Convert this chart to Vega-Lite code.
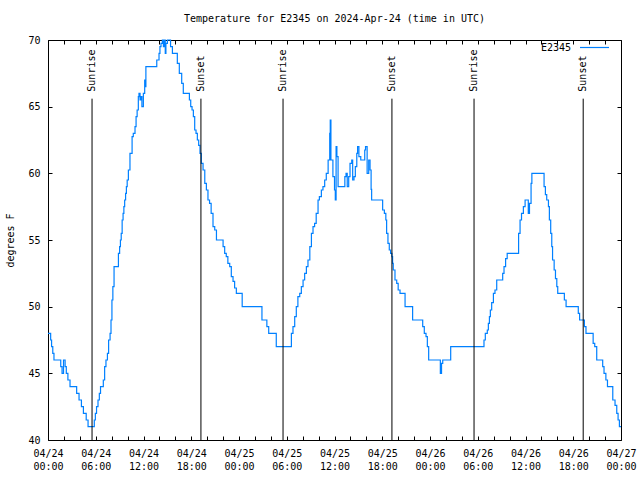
{
  "$schema": "https://vega.github.io/schema/vega-lite/v6.json",
  "autosize": "none",
  "width": 573,
  "height": 400,
  "padding": {"left": 48, "top": 40, "right": 19, "bottom": 40},
  "background": "white",
  "title": {"text": "Temperature for E2345 on 2024-Apr-24 (time in UTC)", "font": "DejaVu Sans Mono", "fontSize": 10, "fontWeight": "normal", "color": "black", "anchor": "middle", "offset": 8},
  "config": {
    "view": {"stroke": "black", "strokeWidth": 1},
    "axis": {"domain": false, "tickColor": "black", "tickWidth": 1, "grid": false, "labelFont": "DejaVu Sans Mono", "labelFontSize": 10, "labelColor": "black", "titleFont": "DejaVu Sans Mono", "titleFontSize": 10, "titleFontWeight": "normal", "titleColor": "black"}
  },
  "datasets": {
    "temps": [
      {"time":"2024-04-24T00:00:00Z","temp":48},{"time":"2024-04-24T00:20:00Z","temp":47.5},{"time":"2024-04-24T00:27:00Z","temp":47},{"time":"2024-04-24T00:36:00Z","temp":46.5},{"time":"2024-04-24T00:45:00Z","temp":46},{"time":"2024-04-24T01:36:00Z","temp":45.5},{"time":"2024-04-24T01:46:00Z","temp":45},{"time":"2024-04-24T01:57:00Z","temp":46},{"time":"2024-04-24T02:09:00Z","temp":45.5},{"time":"2024-04-24T02:18:00Z","temp":45},{"time":"2024-04-24T02:30:00Z","temp":44.5},{"time":"2024-04-24T02:46:00Z","temp":44},{"time":"2024-04-24T03:36:00Z","temp":43.5},{"time":"2024-04-24T03:54:00Z","temp":43},{"time":"2024-04-24T04:12:00Z","temp":42.5},{"time":"2024-04-24T04:27:00Z","temp":42},{"time":"2024-04-24T04:48:00Z","temp":41.5},{"time":"2024-04-24T05:02:00Z","temp":41},{"time":"2024-04-24T05:49:00Z","temp":41.5},{"time":"2024-04-24T05:57:00Z","temp":42},{"time":"2024-04-24T06:06:00Z","temp":42.5},{"time":"2024-04-24T06:17:00Z","temp":43},{"time":"2024-04-24T06:27:00Z","temp":43.5},{"time":"2024-04-24T06:36:00Z","temp":44},{"time":"2024-04-24T06:57:00Z","temp":44.5},{"time":"2024-04-24T07:07:00Z","temp":45.5},{"time":"2024-04-24T07:17:00Z","temp":46},{"time":"2024-04-24T07:28:00Z","temp":46.5},{"time":"2024-04-24T07:37:00Z","temp":47.5},{"time":"2024-04-24T07:48:00Z","temp":48},{"time":"2024-04-24T07:55:00Z","temp":49},{"time":"2024-04-24T08:02:00Z","temp":50.5},{"time":"2024-04-24T08:09:00Z","temp":51.5},{"time":"2024-04-24T08:18:00Z","temp":53},{"time":"2024-04-24T08:51:00Z","temp":54},{"time":"2024-04-24T09:00:00Z","temp":54.5},{"time":"2024-04-24T09:06:00Z","temp":55},{"time":"2024-04-24T09:12:00Z","temp":55.5},{"time":"2024-04-24T09:19:00Z","temp":56.5},{"time":"2024-04-24T09:26:00Z","temp":57},{"time":"2024-04-24T09:32:00Z","temp":57.5},{"time":"2024-04-24T09:38:00Z","temp":58},{"time":"2024-04-24T09:45:00Z","temp":58.5},{"time":"2024-04-24T09:51:00Z","temp":59},{"time":"2024-04-24T09:57:00Z","temp":59.5},{"time":"2024-04-24T10:06:00Z","temp":60.25},{"time":"2024-04-24T10:18:00Z","temp":61.5},{"time":"2024-04-24T10:34:00Z","temp":62.75},{"time":"2024-04-24T10:43:00Z","temp":63},{"time":"2024-04-24T10:56:00Z","temp":63.5},{"time":"2024-04-24T11:04:00Z","temp":64.25},{"time":"2024-04-24T11:12:00Z","temp":64.75},{"time":"2024-04-24T11:21:00Z","temp":65.75},{"time":"2024-04-24T11:26:00Z","temp":66},{"time":"2024-04-24T11:34:00Z","temp":65.5},{"time":"2024-04-24T11:41:00Z","temp":65.75},{"time":"2024-04-24T11:48:00Z","temp":65},{"time":"2024-04-24T11:59:00Z","temp":66},{"time":"2024-04-24T12:09:00Z","temp":67},{"time":"2024-04-24T12:14:00Z","temp":66.5},{"time":"2024-04-24T12:18:00Z","temp":68},{"time":"2024-04-24T13:40:00Z","temp":68.5},{"time":"2024-04-24T13:57:00Z","temp":69},{"time":"2024-04-24T14:04:00Z","temp":69.5},{"time":"2024-04-24T14:12:00Z","temp":69.75},{"time":"2024-04-24T14:22:00Z","temp":70},{"time":"2024-04-24T14:30:00Z","temp":69.5},{"time":"2024-04-24T14:35:00Z","temp":70},{"time":"2024-04-24T14:44:00Z","temp":69},{"time":"2024-04-24T14:49:00Z","temp":69.75},{"time":"2024-04-24T15:00:00Z","temp":70},{"time":"2024-04-24T15:24:00Z","temp":69.5},{"time":"2024-04-24T15:38:00Z","temp":69},{"time":"2024-04-24T16:15:00Z","temp":68.25},{"time":"2024-04-24T16:30:00Z","temp":67.5},{"time":"2024-04-24T16:48:00Z","temp":66.75},{"time":"2024-04-24T17:00:00Z","temp":66},{"time":"2024-04-24T17:46:00Z","temp":65.5},{"time":"2024-04-24T17:56:00Z","temp":65},{"time":"2024-04-24T18:06:00Z","temp":64.75},{"time":"2024-04-24T18:16:00Z","temp":64.25},{"time":"2024-04-24T18:26:00Z","temp":63.25},{"time":"2024-04-24T18:36:00Z","temp":63},{"time":"2024-04-24T18:46:00Z","temp":62.5},{"time":"2024-04-24T18:56:00Z","temp":62.1},{"time":"2024-04-24T19:06:00Z","temp":61.5},{"time":"2024-04-24T19:16:00Z","temp":60.75},{"time":"2024-04-24T19:29:00Z","temp":60.25},{"time":"2024-04-24T19:42:00Z","temp":59.25},{"time":"2024-04-24T19:54:00Z","temp":58.75},{"time":"2024-04-24T20:06:00Z","temp":58},{"time":"2024-04-24T20:18:00Z","temp":57.75},{"time":"2024-04-24T20:30:00Z","temp":57},{"time":"2024-04-24T20:44:00Z","temp":56},{"time":"2024-04-24T20:57:00Z","temp":55.75},{"time":"2024-04-24T21:10:00Z","temp":55},{"time":"2024-04-24T22:00:00Z","temp":54.5},{"time":"2024-04-24T22:12:00Z","temp":54},{"time":"2024-04-24T22:24:00Z","temp":53.75},{"time":"2024-04-24T22:36:00Z","temp":53.25},{"time":"2024-04-24T22:50:00Z","temp":53},{"time":"2024-04-24T23:02:00Z","temp":52.25},{"time":"2024-04-24T23:15:00Z","temp":51.9},{"time":"2024-04-24T23:27:00Z","temp":51.4},{"time":"2024-04-24T23:40:00Z","temp":51},
      {"time":"2024-04-25T00:24:00Z","temp":50},{"time":"2024-04-25T02:53:00Z","temp":49},{"time":"2024-04-25T03:30:00Z","temp":48.5},{"time":"2024-04-25T03:44:00Z","temp":48},{"time":"2024-04-25T04:41:00Z","temp":47},{"time":"2024-04-25T06:35:00Z","temp":48},{"time":"2024-04-25T06:47:00Z","temp":48.5},{"time":"2024-04-25T07:00:00Z","temp":49.25},{"time":"2024-04-25T07:12:00Z","temp":50},{"time":"2024-04-25T07:24:00Z","temp":50.75},{"time":"2024-04-25T07:38:00Z","temp":51},{"time":"2024-04-25T07:50:00Z","temp":51.5},{"time":"2024-04-25T08:03:00Z","temp":52},{"time":"2024-04-25T08:15:00Z","temp":52.5},{"time":"2024-04-25T08:28:00Z","temp":53},{"time":"2024-04-25T08:40:00Z","temp":53.5},{"time":"2024-04-25T08:54:00Z","temp":54.5},{"time":"2024-04-25T09:06:00Z","temp":55.5},{"time":"2024-04-25T09:18:00Z","temp":56},{"time":"2024-04-25T09:30:00Z","temp":56.25},{"time":"2024-04-25T09:42:00Z","temp":57},{"time":"2024-04-25T09:56:00Z","temp":58},{"time":"2024-04-25T10:06:00Z","temp":58.25},{"time":"2024-04-25T10:21:00Z","temp":58.75},{"time":"2024-04-25T10:33:00Z","temp":59},{"time":"2024-04-25T10:46:00Z","temp":59.5},{"time":"2024-04-25T10:58:00Z","temp":60},{"time":"2024-04-25T11:12:00Z","temp":61},{"time":"2024-04-25T11:24:00Z","temp":63},{"time":"2024-04-25T11:28:00Z","temp":64},{"time":"2024-04-25T11:33:00Z","temp":61},{"time":"2024-04-25T11:48:00Z","temp":59.75},{"time":"2024-04-25T12:00:00Z","temp":58.75},{"time":"2024-04-25T12:06:00Z","temp":58},{"time":"2024-04-25T12:12:00Z","temp":62},{"time":"2024-04-25T12:18:00Z","temp":61.25},{"time":"2024-04-25T12:27:00Z","temp":59},{"time":"2024-04-25T13:18:00Z","temp":59.75},{"time":"2024-04-25T13:27:00Z","temp":60},{"time":"2024-04-25T13:36:00Z","temp":59},{"time":"2024-04-25T13:47:00Z","temp":59.75},{"time":"2024-04-25T13:57:00Z","temp":60.75},{"time":"2024-04-25T14:10:00Z","temp":61},{"time":"2024-04-25T14:17:00Z","temp":59.5},{"time":"2024-04-25T14:27:00Z","temp":59.75},{"time":"2024-04-25T14:37:00Z","temp":60.5},{"time":"2024-04-25T14:48:00Z","temp":61.5},{"time":"2024-04-25T14:54:00Z","temp":62},{"time":"2024-04-25T15:04:00Z","temp":61.25},{"time":"2024-04-25T15:18:00Z","temp":61},{"time":"2024-04-25T15:48:00Z","temp":61.75},{"time":"2024-04-25T15:54:00Z","temp":62},{"time":"2024-04-25T16:06:00Z","temp":60},{"time":"2024-04-25T16:18:00Z","temp":61},{"time":"2024-04-25T16:28:00Z","temp":60.25},{"time":"2024-04-25T16:36:00Z","temp":58.8},{"time":"2024-04-25T16:40:00Z","temp":58},{"time":"2024-04-25T18:03:00Z","temp":57.25},{"time":"2024-04-25T18:16:00Z","temp":57},{"time":"2024-04-25T18:27:00Z","temp":56.5},{"time":"2024-04-25T18:33:00Z","temp":55.5},{"time":"2024-04-25T18:43:00Z","temp":54.75},{"time":"2024-04-25T18:53:00Z","temp":54.25},{"time":"2024-04-25T19:03:00Z","temp":54},{"time":"2024-04-25T19:13:00Z","temp":53.75},{"time":"2024-04-25T19:18:00Z","temp":53.25},{"time":"2024-04-25T19:23:00Z","temp":52.75},{"time":"2024-04-25T19:36:00Z","temp":52},{"time":"2024-04-25T19:49:00Z","temp":51.75},{"time":"2024-04-25T20:00:00Z","temp":51.25},{"time":"2024-04-25T20:14:00Z","temp":51},{"time":"2024-04-25T20:52:00Z","temp":50},{"time":"2024-04-25T21:49:00Z","temp":49},{"time":"2024-04-25T23:05:00Z","temp":48.5},{"time":"2024-04-25T23:17:00Z","temp":48},{"time":"2024-04-25T23:30:00Z","temp":47.75},{"time":"2024-04-25T23:40:00Z","temp":47},{"time":"2024-04-25T23:50:00Z","temp":46},
      {"time":"2024-04-26T01:18:00Z","temp":45},{"time":"2024-04-26T01:27:00Z","temp":45.75},{"time":"2024-04-26T01:36:00Z","temp":46},{"time":"2024-04-26T02:36:00Z","temp":47},{"time":"2024-04-26T06:47:00Z","temp":47.5},{"time":"2024-04-26T06:57:00Z","temp":48},{"time":"2024-04-26T07:12:00Z","temp":48.25},{"time":"2024-04-26T07:20:00Z","temp":48.75},{"time":"2024-04-26T07:28:00Z","temp":49.25},{"time":"2024-04-26T07:35:00Z","temp":49.75},{"time":"2024-04-26T07:45:00Z","temp":50.3},{"time":"2024-04-26T07:58:00Z","temp":51},{"time":"2024-04-26T08:10:00Z","temp":51.25},{"time":"2024-04-26T08:23:00Z","temp":52},{"time":"2024-04-26T09:08:00Z","temp":52.5},{"time":"2024-04-26T09:18:00Z","temp":53},{"time":"2024-04-26T09:30:00Z","temp":53.6},{"time":"2024-04-26T09:42:00Z","temp":54},{"time":"2024-04-26T11:08:00Z","temp":55.5},{"time":"2024-04-26T11:19:00Z","temp":56.5},{"time":"2024-04-26T11:30:00Z","temp":57},{"time":"2024-04-26T11:44:00Z","temp":57.5},{"time":"2024-04-26T11:57:00Z","temp":58},{"time":"2024-04-26T12:21:00Z","temp":57},{"time":"2024-04-26T12:30:00Z","temp":57.75},{"time":"2024-04-26T12:42:00Z","temp":59.25},{"time":"2024-04-26T12:48:00Z","temp":60},{"time":"2024-04-26T14:20:00Z","temp":59},{"time":"2024-04-26T14:30:00Z","temp":58.4},{"time":"2024-04-26T14:40:00Z","temp":58},{"time":"2024-04-26T14:53:00Z","temp":57.5},{"time":"2024-04-26T15:00:00Z","temp":56.5},{"time":"2024-04-26T15:10:00Z","temp":55.5},{"time":"2024-04-26T15:18:00Z","temp":54.5},{"time":"2024-04-26T15:24:00Z","temp":53.5},{"time":"2024-04-26T15:36:00Z","temp":52.75},{"time":"2024-04-26T15:46:00Z","temp":52.1},{"time":"2024-04-26T15:56:00Z","temp":51.5},{"time":"2024-04-26T16:03:00Z","temp":51},{"time":"2024-04-26T16:53:00Z","temp":50.5},{"time":"2024-04-26T17:06:00Z","temp":50},{"time":"2024-04-26T18:38:00Z","temp":49.5},{"time":"2024-04-26T18:48:00Z","temp":49},{"time":"2024-04-26T19:24:00Z","temp":48.5},{"time":"2024-04-26T19:36:00Z","temp":48},{"time":"2024-04-26T20:30:00Z","temp":47.25},{"time":"2024-04-26T20:42:00Z","temp":47},{"time":"2024-04-26T20:57:00Z","temp":46},{"time":"2024-04-26T21:42:00Z","temp":45.5},{"time":"2024-04-26T21:52:00Z","temp":45},{"time":"2024-04-26T22:06:00Z","temp":44.5},{"time":"2024-04-26T22:18:00Z","temp":44},{"time":"2024-04-26T22:58:00Z","temp":43},{"time":"2024-04-26T23:15:00Z","temp":42.6},{"time":"2024-04-26T23:28:00Z","temp":42},{"time":"2024-04-26T23:38:00Z","temp":41.5},{"time":"2024-04-26T23:48:00Z","temp":41},{"time":"2024-04-27T00:00:00Z","temp":41}
    ],
    "sun": [
      {"time":"2024-04-24T05:32:00Z","event":"Sunrise","low":40,"high":65.6},
      {"time":"2024-04-24T19:13:00Z","event":"Sunset","low":40,"high":65.6},
      {"time":"2024-04-25T05:32:00Z","event":"Sunrise","low":40,"high":65.6},
      {"time":"2024-04-25T19:13:00Z","event":"Sunset","low":40,"high":65.6},
      {"time":"2024-04-26T05:32:00Z","event":"Sunrise","low":40,"high":65.6},
      {"time":"2024-04-26T19:15:00Z","event":"Sunset","low":40,"high":65.6}
    ]
  },
  "resolve": {"axis": {"x": "independent", "y": "independent"}},
  "layer": [
    {
      "data": {"name": "temps"},
      "mark": {"type": "line", "interpolate": "step-after", "strokeWidth": 1.2},
      "encoding": {
        "x": {"field": "time", "type": "temporal",
          "scale": {"type": "utc", "domain": [1713916800000, 1714176000000]},
          "axis": {"orient": "bottom", "title": null, "tickCount": 40, "values": [1713916800000,1713924000000,1713931200000,1713938400000,1713945600000,1713952800000,1713960000000,1713967200000,1713974400000,1713981600000,1713988800000,1713996000000,1714003200000,1714010400000,1714017600000,1714024800000,1714032000000,1714039200000,1714046400000,1714053600000,1714060800000,1714068000000,1714075200000,1714082400000,1714089600000,1714096800000,1714104000000,1714111200000,1714118400000,1714125600000,1714132800000,1714140000000,1714147200000,1714154400000,1714161600000,1714168800000,1714176000000],
            "tickSize": -4, "labelPadding": 12, "labelOverlap": false, "labelFlush": false, "labelBound": false, "labelLineHeight": 13, "labelBaseline": "top",
            "labelExpr": "utchours(datum.value) % 6 == 0 ? [utcFormat(datum.value, '%m/%d'), utcFormat(datum.value, '%H:%M')] : ''"}},
        "y": {"field": "temp", "type": "quantitative",
          "scale": {"domain": [40, 70], "nice": false, "zero": false},
          "axis": {"orient": "left", "title": "degrees F", "values": [40, 45, 50, 55, 60, 65, 70], "tickSize": -4, "labelPadding": 12, "titlePadding": 12}},
        "color": {"datum": "E2345", "scale": {"range": ["#0080ff"]},
          "legend": {"orient": "none", "legendX": 531, "legendY": -8, "title": null, "symbolType": "stroke", "symbolSize": 841, "symbolStrokeWidth": 1.2, "labelFont": "DejaVu Sans Mono", "labelFontSize": 10, "labelColor": "black", "labelAlign": "right", "labelOffset": -39, "padding": 0}}
      }
    },
    {
      "data": {"name": "sun"},
      "mark": {"type": "rule", "color": "black", "strokeWidth": 1},
      "encoding": {
        "x": {"field": "time", "type": "temporal",
          "axis": {"orient": "top", "title": null, "labels": false, "tickCount": 40, "values": [1713916800000,1713924000000,1713931200000,1713938400000,1713945600000,1713952800000,1713960000000,1713967200000,1713974400000,1713981600000,1713988800000,1713996000000,1714003200000,1714010400000,1714017600000,1714024800000,1714032000000,1714039200000,1714046400000,1714053600000,1714060800000,1714068000000,1714075200000,1714082400000,1714089600000,1714096800000,1714104000000,1714111200000,1714118400000,1714125600000,1714132800000,1714140000000,1714147200000,1714154400000,1714161600000,1714168800000,1714176000000], "tickSize": -4}},
        "y": {"field": "low", "type": "quantitative",
          "axis": {"orient": "right", "title": null, "labels": false, "values": [40, 45, 50, 55, 60, 65, 70], "tickSize": -4}},
        "y2": {"field": "high"}
      }
    },
    {
      "data": {"name": "sun"},
      "mark": {"type": "text", "angle": 270, "align": "left", "baseline": "middle", "font": "DejaVu Sans Mono", "fontSize": 10, "color": "black", "dx": 7},
      "encoding": {
        "x": {"field": "time", "type": "temporal", "axis": null},
        "y": {"field": "high", "type": "quantitative", "axis": null},
        "text": {"field": "event"}
      }
    }
  ]
}
